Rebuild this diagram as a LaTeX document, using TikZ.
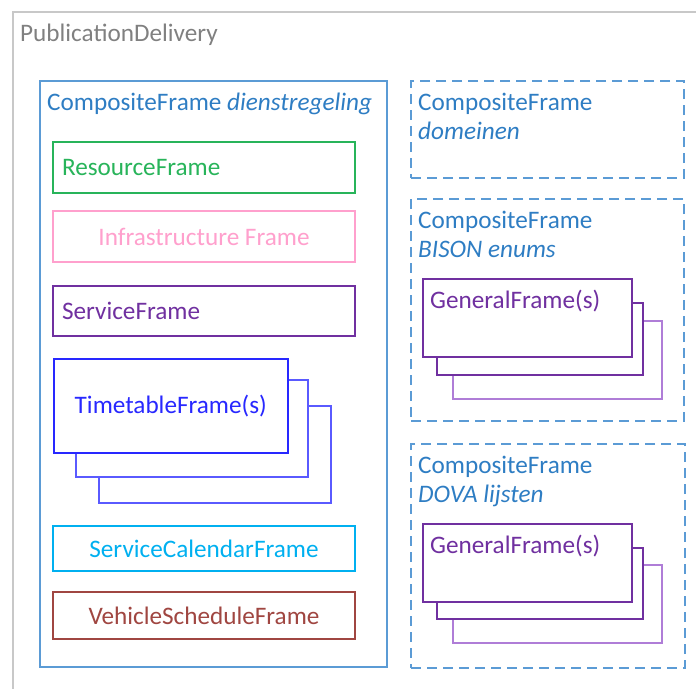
\documentclass[tikz,border=0pt]{standalone}
\usepackage{fontspec}
\setmainfont{Carlito}
\usetikzlibrary{positioning}

\definecolor{delgray}{RGB}{200,200,200}
\definecolor{deltext}{RGB}{128,128,128}
\definecolor{compline}{RGB}{91,155,213}
\definecolor{comptext}{RGB}{46,125,195}
\definecolor{resgreen}{RGB}{40,180,90}
\definecolor{infrapink}{RGB}{255,160,205}
\definecolor{servpurple}{RGB}{112,48,160}
\definecolor{ttblue}{RGB}{40,40,255}
\definecolor{ttlight}{RGB}{90,90,255}
\definecolor{calcyan}{RGB}{0,176,240}
\definecolor{vehred}{RGB}{160,70,65}
\definecolor{genlight}{RGB}{175,125,215}

\tikzset{
    txt/.style = {font = \fontsize{25.2}{30}\selectfont},
    frame/.style = {
        draw, line width = 1.5pt, fill = white, outer sep = 0pt,
        minimum width = 302pt, minimum height = 50pt,
        inner xsep = 9pt, txt
    },
    leftframe/.style = {frame, text width = 284pt, align = left},
    stackbox/.style = {
        draw, line width = 1.5pt, fill = white,
        anchor = north west, inner sep = 0pt
    },
    composite/.style = {
        draw = compline, line width = 1.5pt,
        anchor = north west, inner sep = 0pt
    },
    dashedcomposite/.style = {composite, line width = 2pt, dash pattern = on 10pt off 6pt},
    title/.style = {txt, text = comptext, anchor = base west, inner sep = 0pt}
}

\begin{document}
\begin{tikzpicture}[x=1pt, y=-1pt]

    \useasboundingbox (0,0) rectangle (696,688);

    % PublicationDelivery
    \node[draw = delgray, line width = 1.5pt, anchor = north west,
        minimum width = 720pt, minimum height = 720pt] (pubdel) at (12,11) {};
    \node[txt, text = deltext, anchor = base west, inner sep = 0pt] (pubdel-t) at (20,41) {PublicationDelivery};

    % CompositeFrame dienstregeling
    \node[composite, minimum width = 347pt, minimum height = 586pt] (dienst) at (39,80) {};
    \node[title] (dienst-t) at ([shift={(8,30)}]dienst.north west) {CompositeFrame \textit{dienstregeling}};

    \node[leftframe, draw = resgreen, text = resgreen, minimum height = 51pt, anchor = north west] (res) at (53,142) {ResourceFrame};
    \node[frame, draw = infrapink, text = infrapink, minimum height = 51pt, below = 18pt of res] (infra) {Infrastructure Frame};
    \node[leftframe, draw = servpurple, text = servpurple, below = 24pt of infra] (service) {ServiceFrame};

    % TimetableFrame stack
    \node[stackbox, draw = ttlight, minimum width = 232pt, minimum height = 97pt] (tt3) at (98,405) {};
    \node[stackbox, draw = ttlight, minimum width = 232pt, minimum height = 97pt] (tt2) at (75,379) {};
    \node[stackbox, draw = ttblue, minimum width = 234pt, minimum height = 94pt, txt, text = ttblue] (tt1) at (53,358) {TimetableFrame(s)};

    \node[frame, draw = calcyan, text = calcyan, minimum height = 45pt, anchor = north west] (calendar) at (53,526) {ServiceCalendarFrame};
    \node[frame, draw = vehred, text = vehred, minimum height = 47pt, below = 21pt of calendar] (vehicle) {VehicleScheduleFrame};

    % CompositeFrame domeinen
    \node[dashedcomposite, minimum width = 273pt, minimum height = 97pt] (domein) at (410,80) {};
    \node[title] (domein-t) at ([shift={(8,30)}]domein.north west) {CompositeFrame};
    \node[title] (domein-s) at ([shift={(8,59.5)}]domein.north west) {\textit{domeinen}};

    % CompositeFrame BISON enums
    \node[dashedcomposite, minimum width = 273pt, minimum height = 222pt] (bison) at (410,198) {};
    \node[title] (bison-t) at ([shift={(8,30)}]bison.north west) {CompositeFrame};
    \node[title] (bison-s) at ([shift={(8,59.5)}]bison.north west) {\textit{BISON enums}};

    \node[stackbox, draw = genlight, minimum width = 209pt, minimum height = 78pt] (gen13) at (452,320) {};
    \node[stackbox, draw = servpurple, minimum width = 206pt, minimum height = 72pt] (gen12) at (436,302) {};
    \node[stackbox, draw = servpurple, minimum width = 209pt, minimum height = 78pt] (gen11) at (422,278) {};
    \node[txt, text = servpurple, anchor = base west, inner sep = 0pt] (gen11-t) at ([shift={(8,30)}]gen11.north west) {GeneralFrame(s)};

    % CompositeFrame DOVA lijsten
    \node[dashedcomposite, minimum width = 274pt, minimum height = 224pt] (dova) at (410,443) {};
    \node[title] (dova-t) at ([shift={(8,30)}]dova.north west) {CompositeFrame};
    \node[title] (dova-s) at ([shift={(8,59.5)}]dova.north west) {\textit{DOVA lijsten}};

    \node[stackbox, draw = genlight, minimum width = 209pt, minimum height = 78pt] (gen23) at (452,564) {};
    \node[stackbox, draw = servpurple, minimum width = 206pt, minimum height = 71pt] (gen22) at (436,547) {};
    \node[stackbox, draw = servpurple, minimum width = 209pt, minimum height = 78pt] (gen21) at (422,523) {};
    \node[txt, text = servpurple, anchor = base west, inner sep = 0pt] (gen21-t) at ([shift={(8,30)}]gen21.north west) {GeneralFrame(s)};

\end{tikzpicture}
\end{document}
